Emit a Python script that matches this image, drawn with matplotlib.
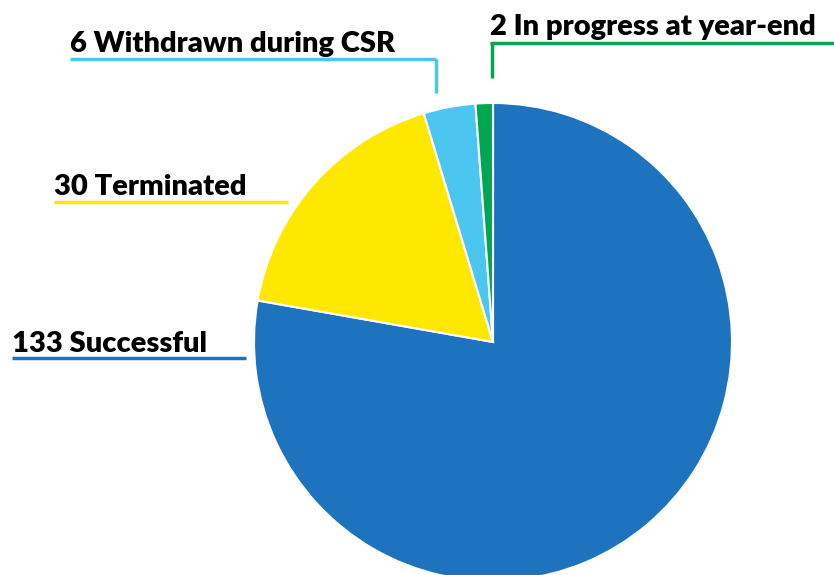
import matplotlib as mpl
mpl.use('Agg')
import matplotlib.pyplot as plt

# data
categories = ['Successful', 'Terminated', 'Withdrawn during CSR', 'In progress at year-end']
counts     = [133, 30, 6, 2]
colors     = ['#1E73BE', '#FFE800', '#4BC6F0', '#00A651']

# layout in pixels (y from top): text x, text baseline, line y, line x end, vertical line end
W, H = 834, 575
label_x      = [12, 54, 70, 490]
label_base   = [352, 195, 52, 35]
line_y       = [358, 202, 59, 43]
line_x_end   = [246, 288, 436, 834]
vline_x      = [None, None, 436, 492]
vline_end    = [None, None, 93, 78]

fig = plt.figure(figsize=(W/100, H/100), dpi=100)
ax = fig.add_axes([0, 0, 1, 1])

ax.pie(counts, colors=colors, startangle=90, counterclock=False,
       center=(493, H-342), radius=239, frame=True,
       wedgeprops=dict(edgecolor='white', linewidth=1.5))
ax.set_xlim(0, W)
ax.set_ylim(0, H)
ax.set_aspect('equal')
ax.axis('off')

for i in range(len(counts)):
    ax.text(label_x[i], H-label_base[i], "%d %s" % (counts[i], categories[i]),
            fontsize=21, fontweight='heavy', family='Lato', color='black', va='baseline', ha='left')
    ax.plot([label_x[i], line_x_end[i]], [H-line_y[i], H-line_y[i]], color=colors[i], linewidth=2.5,
            solid_capstyle='butt')
    if vline_x[i] is not None:
        ax.plot([vline_x[i], vline_x[i]], [H-line_y[i], H-vline_end[i]], color=colors[i], linewidth=2.5,
                solid_capstyle='butt')

plt.savefig('out.png', dpi=100)
